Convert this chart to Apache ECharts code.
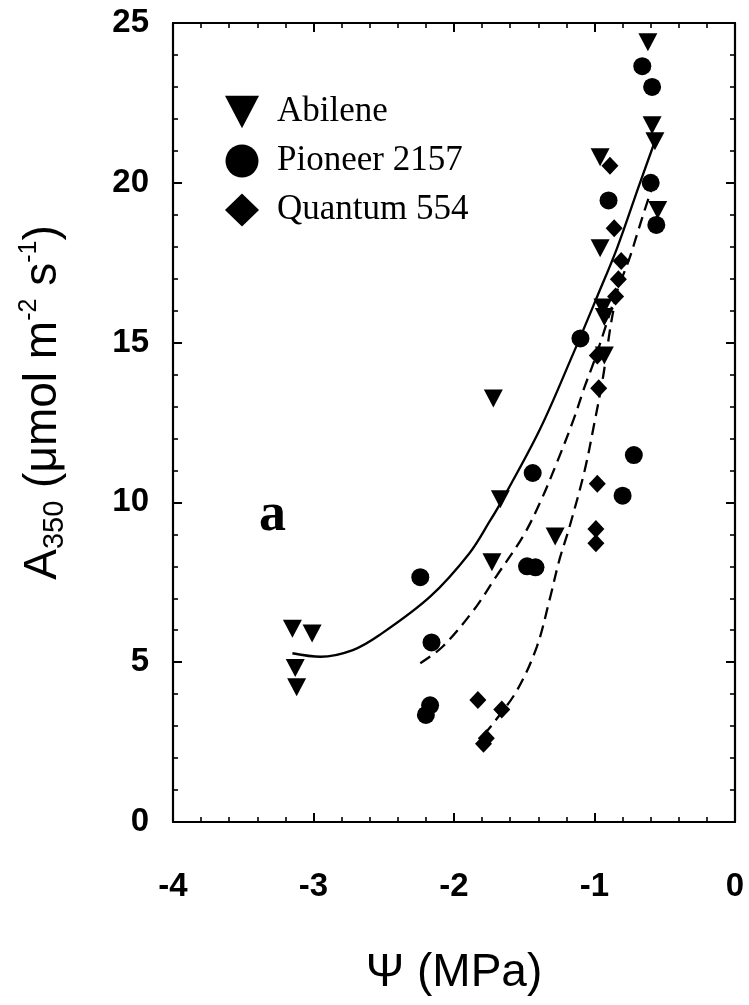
<!DOCTYPE html>
<html>
<head>
<meta charset="utf-8">
<title>A350 vs leaf water potential</title>
<script src="https://cdn.jsdelivr.net/npm/echarts@6/dist/echarts.min.js"></script>
<style>
    html, body { margin: 0; padding: 0; background: #fff; }
    #chart { width: 749px; height: 1005px; }
</style>
</head>
<body>
<div id="chart"></div>
<script>
// 读图得到的数据 (Ψ in MPa, A350 in umol m-2 s-1)
var abileneWp = [-0.62, -0.59, -0.57, -0.96, -0.55, -0.96, -0.94, -0.93, -0.93, -1.72, -1.67, -1.28, -1.73, -3.15, -3.01, -3.13, -3.12]
var abileneA = [24.4, 21.8, 21.3, 20.8, 19.15, 17.95, 16.1, 15.8, 14.6, 13.25, 10.1, 8.93, 8.13, 6.05, 5.9, 4.82, 4.22]

var pioneerWp = [-0.66, -0.59, -0.6, -0.9, -0.56, -1.1, -0.72, -1.44, -0.8, -1.48, -1.42, -2.24, -2.16, -2.17, -2.2]
var pioneerA = [23.65, 23.0, 20.0, 19.45, 18.68, 15.13, 11.48, 10.92, 10.21, 8.0, 7.97, 7.66, 5.62, 3.65, 3.35]

var quantumWp = [-0.89, -0.86, -0.81, -0.83, -0.85, -0.98, -0.97, -0.98, -0.99, -0.99, -1.83, -1.66, -1.79, -1.77]
var quantumA = [20.53, 18.58, 17.55, 16.98, 16.44, 14.6, 13.57, 10.58, 9.17, 8.72, 3.82, 3.52, 2.45, 2.62]

// 拟合曲线
var abileneFitWp = [-3.15, -2.95, -2.72, -2.53, -2.17, -1.89, -1.74, -1.67, -1.39, -1.15, -0.98, -0.84, -0.68, -0.57]
var abileneFitA = [5.28, 5.17, 5.38, 5.85, 7.05, 8.41, 9.45, 9.97, 12.27, 14.67, 16.45, 17.95, 19.95, 21.3]

var pioneerFitWp = [-2.24, -2.08, -1.86, -1.70, -1.51, -1.39, -1.27, -1.15, -1.07, -1.00, -0.91, -0.84, -0.75, -0.70, -0.65, -0.59]
var pioneerFitA = [4.97, 5.49, 6.63, 7.68, 8.93, 9.97, 11.22, 12.58, 13.62, 14.45, 15.65, 16.6, 17.65, 18.35, 19.05, 19.85]

var quantumFitWp = [-1.79, -1.72, -1.55, -1.41, -1.32, -1.25, -1.18, -1.07, -1.00, -0.94, -0.89, -0.85, -0.81]
var quantumFitA = [2.72, 3.09, 4.13, 5.49, 6.95, 8.2, 9.2, 11.0, 12.5, 13.9, 15.4, 16.4, 17.5]

var xTicks = [-4, -3, -2, -1, 0]
var yTicks = [0, 5, 10, 15, 20, 25]
var cultivars = ['Abilene', 'Pioneer 2157', 'Quantum 554']

;
(function () {
    var sans = '"Liberation Sans", Arial, Helvetica, sans-serif'
    var serif = '"Liberation Serif", "Times New Roman", serif'
    var downTri = 'path://M0,0 L20,0 L10,19 Z'

    function pairs(xs, ys) { // 组合成 [x, y]
        var out = []
        for (var i = 0; i < xs.length; i++) {
            out.push([xs[i], ys[i]])
        }
        return out
    }

    function frameAxis(type, pos, isMain) { // 四边的坐标轴 (ticks inside)
        var isX = type === 'x'
        var ticks = isX ? xTicks : yTicks
        return {
            type: 'value',
            position: pos,
            min: ticks[0],
            max: ticks[ticks.length - 1],
            interval: ticks[1] - ticks[0],
            splitLine: { show: false },
            axisLine: { show: true, onZero: false, lineStyle: { color: '#000', width: 2.2 } },
            axisTick: { show: true, inside: true, length: 9, lineStyle: { color: '#000', width: 2 } },
            minorTick: { show: true, splitNumber: 5, length: 5, lineStyle: { color: '#000', width: 1.6 } },
            axisLabel: {
                show: isMain,
                color: '#000',
                fontFamily: sans,
                fontWeight: 'bold',
                fontSize: 33,
                margin: isX ? 48 : 24,
            },
        }
    }

    function scatter(name, xs, ys, symbol, size) {
        return {
            name: name,
            type: 'scatter',
            symbol: symbol,
            symbolSize: size,
            itemStyle: { color: '#000', opacity: 1 },
            data: pairs(xs, ys),
            z: 3,
        }
    }

    function fitLine(xs, ys, dashed) {
        return {
            name: 'fit',
            type: 'line',
            smooth: 0.35,
            showSymbol: false,
            silent: true,
            lineStyle: { color: '#000', width: 2.3, type: dashed ? [12, 7] : 'solid' },
            data: pairs(xs, ys),
            z: 2,
        }
    }

    var xMain = frameAxis('x', 'bottom', true)
    xMain.name = 'Ψ (MPa)'
    xMain.nameLocation = 'middle'
    xMain.nameGap = 128
    xMain.nameTextStyle = { color: '#000', fontFamily: sans, fontSize: 46 }

    var yMain = frameAxis('y', 'left', true)
    yMain.name = '{a|A}{sub|350}{a| (μmol m}{sup|-2}{a| s}{sup|-1}{a|)}'
    yMain.nameLocation = 'middle'
    yMain.nameRotate = 90
    yMain.nameGap = 104
    yMain.nameTextStyle = {
        color: '#000',
        padding: [0, 0, 0, 40],
        rich: {
            a: { fontFamily: sans, fontSize: 46, lineHeight: 52, color: '#000' },
            sub: { fontFamily: sans, fontSize: 29, lineHeight: 34, verticalAlign: 'bottom', color: '#000' },
            sup: { fontFamily: sans, fontSize: 25, lineHeight: 26, verticalAlign: 'top', color: '#000' },
        },
    }

    var chart = echarts.init(document.getElementById('chart'))
    var option = {
        backgroundColor: '#fff',
        animation: false,
        grid: { left: 173, right: 14, top: 23, bottom: 183 },
        xAxis: [xMain, frameAxis('x', 'top', false)],
        yAxis: [yMain, frameAxis('y', 'right', false)],
        legend: {
            orient: 'vertical',
            left: 220,
            top: 88,
            itemWidth: 34,
            itemHeight: 33,
            itemGap: 11,
            selectedMode: false,
            data: [
                { name: cultivars[0], icon: downTri },
                { name: cultivars[1], icon: 'circle' },
                { name: cultivars[2], icon: 'diamond' },
            ],
            textStyle: { color: '#000', fontFamily: serif, fontSize: 35, lineHeight: 38, padding: [0, 0, 0, 13] },
        },
        graphic: [
            { // 子图标记 a
                type: 'text',
                left: 259,
                top: 489,
                style: { text: 'a', fontFamily: serif, fontWeight: 'bold', fontSize: 54, fill: '#000' },
            },
        ],
        series: [
            fitLine(abileneFitWp, abileneFitA, false),
            fitLine(pioneerFitWp, pioneerFitA, true),
            fitLine(quantumFitWp, quantumFitA, true),
            scatter(cultivars[0], abileneWp, abileneA, downTri, [19, 18]),
            scatter(cultivars[1], pioneerWp, pioneerA, 'circle', 18),
            scatter(cultivars[2], quantumWp, quantumA, 'diamond', [17, 18]),
        ],
    }
    chart.setOption(option)
}())
</script>
</body>
</html>
